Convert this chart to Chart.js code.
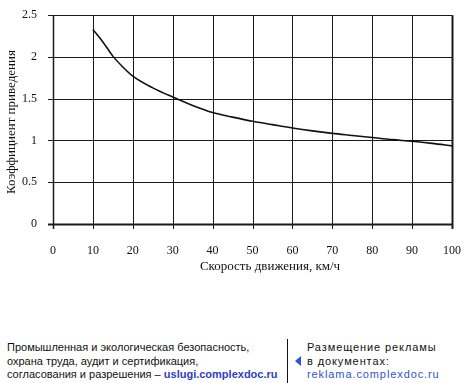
<!DOCTYPE html>
<html><head><meta charset="utf-8">
<script src="https://cdn.jsdelivr.net/npm/chart.js@4"></script>
<style>
html,body{margin:0;padding:0;background:#fff;width:473px;height:383px;overflow:hidden;position:relative}
#wrap{position:absolute;left:0;top:0;width:473px;height:290px}
.ft{position:absolute;font-family:"Liberation Sans",Arial,sans-serif;font-size:11px;line-height:13.5px;color:#111;white-space:nowrap}
#sep{position:absolute;left:287px;top:339px;width:1px;height:44px;background:#111}
#tri{position:absolute;left:295px;top:356px;width:0;height:0;border-top:5px solid transparent;border-bottom:5px solid transparent;border-right:6px solid #2b55d6}
</style></head><body>
<div id="wrap"><canvas id="c" width="473" height="290"></canvas></div>
<div class="ft" style="left:7px;top:341px">Промышленная и экологическая безопасность,<br>охрана труда, аудит и сертификация,<br>согласования и разрешения – <b style="color:#2b3fc8">uslugi.complexdoc.ru</b></div>
<div id="sep"></div><div id="tri"></div>
<div class="ft" style="left:307px;top:341px;letter-spacing:0.9px">Размещение рекламы<br>в документах:<br><span style="color:#2b55d6">reklama.complexdoc.ru</span></div>
<script>
const speeds = [10, 12.5, 15, 17.5, 20, 25, 30, 35, 40, 45, 50, 55, 60, 65, 70, 75, 80, 85, 90, 95, 100];
const coefficients = [2.33, 2.18, 2.01, 1.88, 1.77, 1.63, 1.52, 1.42, 1.335, 1.28, 1.23, 1.19, 1.15, 1.115, 1.085, 1.06, 1.035, 1.01, 0.99, 0.965, 0.935];
const xTicks = [0, 10, 20, 30, 40, 50, 60, 70, 80, 90, 100];
const yTicks = [0, 0.5, 1, 1.5, 2, 2.5];
const xTitle = "Скорость движения, км/ч";
const yTitle = "Коэффициент приведения";

const gridPlugin = {
  id: 'gridPlugin',
  beforeDatasetsDraw(chart) {
    const ctx = chart.ctx, xs = chart.scales.x, ys = chart.scales.y;
    const top = ys.getPixelForValue(2.5), bottom = ys.getPixelForValue(0);
    const left = xs.getPixelForValue(0), right = xs.getPixelForValue(100);
    ctx.save();
    ctx.strokeStyle = '#1a1a1a';
    xTicks.forEach(v => {
      const p = Math.round(xs.getPixelForValue(v)) + 0.5;
      ctx.lineWidth = (v === 100) ? 2 : (v === 0 ? 1.5 : 1);
      ctx.beginPath(); ctx.moveTo(p, top); ctx.lineTo(p, bottom + 5); ctx.stroke();
    });
    yTicks.forEach(v => {
      const p = Math.round(ys.getPixelForValue(v)) + 0.5;
      ctx.lineWidth = (v === 0) ? 2 : 1;
      ctx.beginPath(); ctx.moveTo(left - 5, p); ctx.lineTo(right, p); ctx.stroke();
    });
    ctx.restore();
  },
  afterDraw(chart) {
    const ctx = chart.ctx;
    ctx.save();
    ctx.fillStyle = '#111';
    ctx.font = '13px "Liberation Serif", serif';
    ctx.textAlign = 'center';
    ctx.textBaseline = 'middle';
    ctx.fillText(xTitle, 270, 267);
    ctx.translate(12, 122);
    ctx.rotate(-Math.PI / 2);
    ctx.fillText(yTitle, 0, 0);
    ctx.restore();
  }
};

new Chart(document.getElementById('c'), {
  type: 'line',
  data: {
    datasets: [{
      data: speeds.map((s, i) => ({x: s, y: coefficients[i]})),
      borderColor: '#111',
      borderWidth: 1.6,
      pointRadius: 0,
      cubicInterpolationMode: 'monotone',
      fill: false
    }]
  },
  options: {
    responsive: false,
    animation: false,
    layout: {padding: {left: 0, top: 13, right: 19, bottom: 0}},
    plugins: {legend: {display: false}, tooltip: {enabled: false}},
    scales: {
      x: {
        type: 'linear', min: 0, max: 100,
        afterFit: function(s) { s.height = 66; },
        afterBuildTicks: function(s) { s.ticks = xTicks.map(v => ({value: v})); },
        ticks: {color: '#111', padding: 12, font: {family: '"Liberation Serif", serif', size: 12}, maxRotation: 0},
        grid: {display: false},
        border: {display: false}
      },
      y: {
        type: 'linear', min: 0, max: 2.5,
        afterFit: function(s) { s.width = 53; },
        afterBuildTicks: function(s) { s.ticks = yTicks.map(v => ({value: v})); },
        ticks: {color: '#111', padding: 8, font: {family: '"Liberation Serif", serif', size: 12},
          callback: v => String(v)},
        grid: {display: false},
        border: {display: false}
      }
    }
  },
  plugins: [gridPlugin]
});
</script>
</body></html>
